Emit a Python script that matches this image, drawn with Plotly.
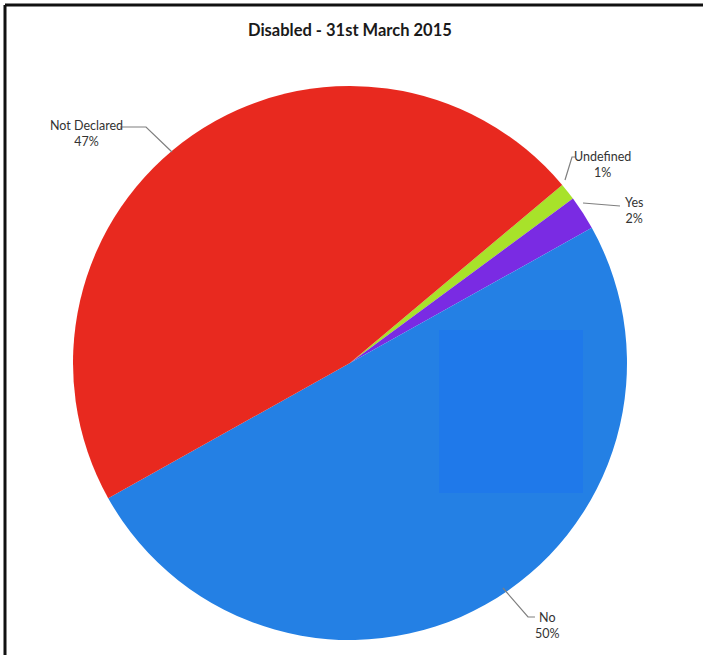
import plotly.graph_objects as go

# Disability status breakdown, 31st March 2015
categories = ["Undefined", "Yes", "No", "Not Declared"]
percentages = [1, 2, 50, 47]
slice_colors = ["#A8E22A", "#7A2BE3", "#2480E4", "#E8291F"]

W, H = 703, 655
cx, cy, r = 350, 363, 277  # pie centre and radius in pixels


def px(x):
    return x / W


def py(y):
    return 1 - y / H


def path(points):
    return "M " + " L ".join(f"{px(x):.5f} {py(y):.5f}" for x, y in points)


fig = go.Figure()

fig.add_trace(go.Pie(
    labels=categories,
    values=percentages,
    sort=False,
    direction="clockwise",
    rotation=50,
    marker=dict(colors=slice_colors, line=dict(width=0)),
    textinfo="none",
    hoverinfo="label+percent",
    showlegend=False,
    domain=dict(x=[px(cx - r), px(cx + r)], y=[py(cy + r), py(cy - r)]),
))

label_font = dict(family="Lato, 'Open Sans', sans-serif", size=12.5, color="#333333")

# label text centre (x, y) and leader line for each category, in pixels
label_pos = {
    "Not Declared": (86, 134),
    "Undefined": (602, 164),
    "Yes": (634, 210),
    "No": (547, 625),
}
leader_lines = {
    "Not Declared": [(120, 127), (146, 127), (172, 152)],
    "Undefined": [(575, 157), (572, 157), (565, 180)],
    "Yes": [(583, 203), (620, 206)],
    "No": [(503, 588), (528, 617), (535, 617)],
}

for name, pct in zip(categories, percentages):
    x, y = label_pos[name]
    fig.add_annotation(x=px(x), y=py(y), xref="paper", yref="paper",
                       xanchor="center", yanchor="middle",
                       text=f"{name}<br>{pct}%", showarrow=False,
                       font=label_font, align="center")
    fig.add_shape(type="path", path=path(leader_lines[name]),
                  xref="paper", yref="paper",
                  line=dict(color="#7F7F7F", width=1.2))

# Slightly brighter block inside the "No" slice
fig.add_shape(type="rect", x0=px(439), x1=px(583), y0=py(493), y1=py(330),
              xref="paper", yref="paper", fillcolor="#1F78EA",
              line=dict(width=0), layer="above", opacity=0.9)

# Frame lines along top and left
fig.add_shape(type="line", x0=px(5), x1=1, y0=py(5), y1=py(5),
              xref="paper", yref="paper", line=dict(color="#111111", width=3))
fig.add_shape(type="line", x0=px(5), x1=px(5), y0=py(5), y1=0,
              xref="paper", yref="paper", line=dict(color="#111111", width=3))

fig.add_annotation(x=px(350), y=py(30), xref="paper", yref="paper",
                   xanchor="center", yanchor="middle",
                   text="<b>Disabled - 31st March 2015</b>", showarrow=False,
                   font=dict(family="Lato, 'Open Sans', sans-serif", size=16.5,
                             color="#1A1A1A"))

fig.update_layout(
    width=W, height=H,
    margin=dict(l=0, r=0, t=0, b=0),
    paper_bgcolor="white",
)

fig.write_html(
    "out.html",
    config={"displayModeBar": False},
    post_script="document.body.style.margin='0';"
                "document.documentElement.style.overflow='hidden';",
)
